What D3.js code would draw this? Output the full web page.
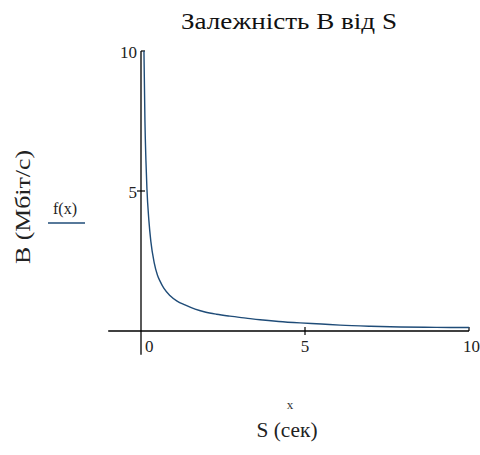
<!DOCTYPE html>
<html><head><meta charset="utf-8">
<script src="https://cdn.jsdelivr.net/npm/d3@7"></script>
<style>body{margin:0;background:#fff}svg{display:block}</style>
</head><body>
<script>
const title = "Залежність B від S";
const xLabel = "S (сек)";
const xVarLabel = "x";
const yLabel = "B (Мбіт/с)";
const legendLabel = "f(x)";
const xTicks = [0, 5, 10];
const yTicks = [5, 10];
// curve
const sValues = [0.09, 0.12, 0.15, 0.18, 0.24, 0.30, 0.40, 0.50, 0.58, 0.70, 0.88, 1.10, 1.34, 1.65, 1.95, 2.3, 2.71, 3.2, 3.63, 4.2, 4.85, 5.5, 6.07, 7.0, 7.9, 9.0, 10];
const bValues = [10, 7.5, 6.1, 5.1, 3.95, 3.2, 2.45, 2.0, 1.78, 1.52, 1.27, 1.07, 0.93, 0.78, 0.68, 0.6, 0.53, 0.46, 0.40, 0.34, 0.29, 0.25, 0.21, 0.17, 0.145, 0.13, 0.125];

const W = 480, H = 455;
const FONT = "'Liberation Serif', 'Times New Roman', serif";
const svg = d3.select("body").append("svg").attr("width", W).attr("height", H);
const x = d3.scaleLinear().domain([-1, 10]).range([108.2, 469]);
const y = d3.scaleLinear().domain([-0.85, 10]).range([354.8, 51]);

function txt() { return svg.append("text").style("font-family", FONT); }

txt().attr("x", 289).attr("y", 29).attr("text-anchor", "middle")
  .style("font-size", "24px").attr("textLength", 216).attr("lengthAdjust", "spacingAndGlyphs")
  .attr("fill", "#111").text(title);

const axisColor = "#000";
svg.append("line").attr("x1", x(-1)).attr("x2", x(10)).attr("y1", y(0)).attr("y2", y(0))
  .attr("stroke", axisColor).attr("stroke-width", 1.3);
svg.append("line").attr("x1", x(0)).attr("x2", x(0)).attr("y1", y(10)).attr("y2", y(-0.85))
  .attr("stroke", axisColor).attr("stroke-width", 1.3);

xTicks.forEach(t => {
  if (t === 0) return;
  const up = t === 10;
  svg.append("line").attr("x1", x(t)).attr("x2", x(t))
    .attr("y1", y(0) - 4).attr("y2", up ? y(0) : y(0) + 4)
    .attr("stroke", axisColor).attr("stroke-width", 1.2);
});
xTicks.forEach((t, i) => {
  const last = i === xTicks.length - 1;
  const anchor = i === 0 ? "start" : (last ? "end" : "middle");
  const xp = i === 0 ? x(t) + 4 : (last ? 480 : x(t));
  txt().attr("x", xp).attr("y", y(0) + 21)
    .attr("text-anchor", anchor).style("font-size", "17px")
    .attr("fill", "#222").text(t);
});
yTicks.forEach(t => {
  const top = t === 10;
  svg.append("line").attr("x1", top ? x(0) : x(0) - 4).attr("x2", x(0) + 4)
    .attr("y1", y(t)).attr("y2", y(t)).attr("stroke", axisColor).attr("stroke-width", 1.2);
  txt().attr("x", x(0) - 4).attr("y", y(t) + 7)
    .attr("text-anchor", "end").style("font-size", "17px")
    .attr("fill", "#222").text(t);
});

const pts = sValues.map((s, i) => [s, bValues[i]]);
const line = d3.line().x(d => x(d[0])).y(d => y(d[1])).curve(d3.curveMonotoneX);
svg.append("path").datum(pts).attr("d", line).attr("fill", "none")
  .attr("stroke", "#1f4c78").attr("stroke-width", 1.4);

txt().attr("x", 65).attr("y", 214).attr("text-anchor", "middle")
  .style("font-size", "16px").attr("fill", "#222").text(legendLabel);
svg.append("line").attr("x1", 48).attr("x2", 85).attr("y1", 223).attr("y2", 223)
  .attr("stroke", "#1f4c78").attr("stroke-width", 1.5);

txt().attr("transform", "translate(30,207) rotate(-90)").attr("text-anchor", "middle")
  .style("font-size", "21px").attr("textLength", 114).attr("lengthAdjust", "spacingAndGlyphs")
  .attr("fill", "#222").text(yLabel);

txt().attr("x", 290).attr("y", 409).attr("text-anchor", "middle")
  .style("font-size", "13px").attr("fill", "#333").text(xVarLabel);
txt().attr("x", 287).attr("y", 437).attr("text-anchor", "middle")
  .style("font-size", "20px").attr("textLength", 61).attr("lengthAdjust", "spacingAndGlyphs")
  .attr("fill", "#222").text(xLabel);
</script>
</body></html>
